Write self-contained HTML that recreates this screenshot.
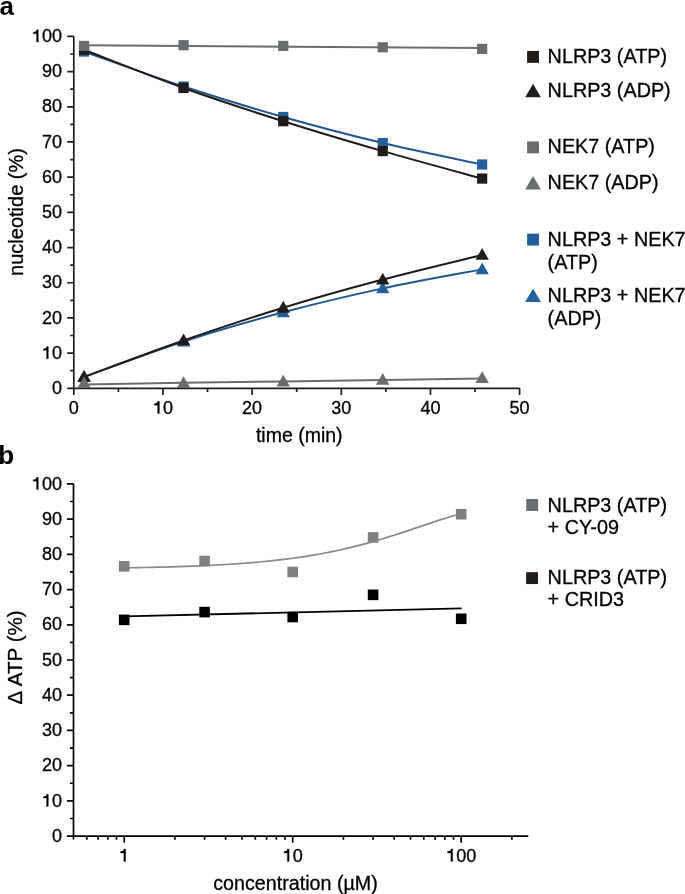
<!DOCTYPE html>
<html><head><meta charset="utf-8"><style>
html,body{margin:0;padding:0;background:#fff;}
body{width:685px;height:894px;overflow:hidden;}
svg{display:block;will-change:transform;}
text{font-family:"Liberation Sans",sans-serif;fill:#000;stroke:#000;stroke-width:0.3px;}
.t{font-size:18.0px;}
.ti{font-size:19.5px;}
.lg{font-size:19.8px;}
.pl{font-size:26px;font-weight:bold;fill:#000;stroke-width:0;}
</style></head><body>
<svg width="685" height="894" viewBox="0 0 685 894">
<path d="M73.80 36.40V394.90M67.20 388.30H519.60" stroke="#211c19" stroke-width="1.7" fill="none" stroke-linejoin="round" stroke-linecap="butt"/>
<path d="M70.20 370.70H73.80M67.20 353.11H73.80M70.20 335.51H73.80M67.20 317.92H73.80M70.20 300.33H73.80M67.20 282.73H73.80M70.20 265.13H73.80M67.20 247.54H73.80M70.20 229.94H73.80M67.20 212.35H73.80M70.20 194.75H73.80M67.20 177.16H73.80M70.20 159.56H73.80M67.20 141.97H73.80M70.20 124.38H73.80M67.20 106.78H73.80M70.20 89.19H73.80M67.20 71.59H73.80M70.20 54.00H73.80M67.20 36.40H73.80M118.38 388.30V391.90M162.96 388.30V394.90M207.54 388.30V391.90M252.12 388.30V394.90M296.70 388.30V391.90M341.28 388.30V394.90M385.86 388.30V391.90M430.44 388.30V394.90M475.02 388.30V391.90M519.60 388.30V394.90" stroke="#211c19" stroke-width="1.7" fill="none"/>
<text x="51.89" y="394.00" class="t">0</text>
<path d="M359 690L359 0L259 0L259 470L75 470L75 550C175 555 245 590 270 690Z" transform="translate(41.88 358.81) scale(0.01800 -0.01800)" fill="#000" stroke="#000" stroke-width="16.7"/>
<text x="51.89" y="358.81" class="t">0</text>
<text x="41.88" y="323.62" class="t">2</text>
<text x="51.89" y="323.62" class="t">0</text>
<text x="41.88" y="288.43" class="t">3</text>
<text x="51.89" y="288.43" class="t">0</text>
<text x="41.88" y="253.24" class="t">4</text>
<text x="51.89" y="253.24" class="t">0</text>
<text x="41.88" y="218.05" class="t">5</text>
<text x="51.89" y="218.05" class="t">0</text>
<text x="41.88" y="182.86" class="t">6</text>
<text x="51.89" y="182.86" class="t">0</text>
<text x="41.88" y="147.67" class="t">7</text>
<text x="51.89" y="147.67" class="t">0</text>
<text x="41.88" y="112.48" class="t">8</text>
<text x="51.89" y="112.48" class="t">0</text>
<text x="41.88" y="77.29" class="t">9</text>
<text x="51.89" y="77.29" class="t">0</text>
<path d="M359 690L359 0L259 0L259 470L75 470L75 550C175 555 245 590 270 690Z" transform="translate(31.88 42.10) scale(0.01800 -0.01800)" fill="#000" stroke="#000" stroke-width="16.7"/>
<text x="41.88" y="42.10" class="t">0</text>
<text x="51.89" y="42.10" class="t">0</text>
<text x="68.80" y="413.60" class="t">0</text>
<path d="M359 690L359 0L259 0L259 470L75 470L75 550C175 555 245 590 270 690Z" transform="translate(152.95 413.60) scale(0.01800 -0.01800)" fill="#000" stroke="#000" stroke-width="16.7"/>
<text x="162.96" y="413.60" class="t">0</text>
<text x="242.11" y="413.60" class="t">2</text>
<text x="252.12" y="413.60" class="t">0</text>
<text x="331.27" y="413.60" class="t">3</text>
<text x="341.28" y="413.60" class="t">0</text>
<text x="420.43" y="413.60" class="t">4</text>
<text x="430.44" y="413.60" class="t">0</text>
<text x="509.59" y="413.60" class="t">5</text>
<text x="519.60" y="413.60" class="t">0</text>
<text x="299.3" y="441.9" text-anchor="middle" class="ti">time (min)</text>
<text transform="translate(22.7 212.0) rotate(-90)" x="0" y="0" text-anchor="middle" class="ti" style="font-size:20px">nucleotide (%)</text>
<text x="-0.5" y="14.6" class="pl">a</text>
<path d="M84.05 51.53C100.64 57.37 150.36 75.64 183.56 86.55C216.75 97.45 250.04 107.57 283.24 116.99C316.43 126.40 349.59 135.11 382.74 143.03C415.89 150.94 465.58 160.91 482.15 164.49" stroke="#20568f" stroke-width="2.0" fill="none"/>
<path d="M84.05 376.69C100.64 370.82 150.36 352.23 183.56 341.50C216.75 330.76 250.04 321.15 283.24 312.29C316.43 303.43 349.59 295.52 382.74 288.36C415.89 281.21 465.58 272.52 482.15 269.36" stroke="#20568f" stroke-width="2.0" fill="none"/>
<rect x="78.95" y="46.43" width="10.2" height="10.2" fill="#21609c"/>
<rect x="178.46" y="81.45" width="10.2" height="10.2" fill="#21609c"/>
<rect x="278.14" y="111.89" width="10.2" height="10.2" fill="#21609c"/>
<rect x="377.64" y="137.93" width="10.2" height="10.2" fill="#21609c"/>
<rect x="477.05" y="159.39" width="10.2" height="10.2" fill="#21609c"/>
<path d="M84.05 369.80L90.75 381.60L77.35 381.60Z" fill="#21609c"/>
<path d="M183.56 334.61L190.26 346.41L176.86 346.41Z" fill="#21609c"/>
<path d="M283.24 305.41L289.94 317.21L276.54 317.21Z" fill="#21609c"/>
<path d="M382.74 281.48L389.44 293.28L376.04 293.28Z" fill="#21609c"/>
<path d="M482.15 262.47L488.85 274.27L475.45 274.27Z" fill="#21609c"/>
<path d="M84.05 49.77C100.64 56.14 150.36 76.05 183.56 87.95C216.75 99.86 250.04 110.68 283.24 121.21C316.43 131.74 349.59 141.56 382.74 151.12C415.89 160.68 465.58 173.99 482.15 178.57" stroke="#211c19" stroke-width="2.0" fill="none"/>
<rect x="78.95" y="44.67" width="10.2" height="10.2" fill="#211c19"/>
<rect x="178.46" y="82.85" width="10.2" height="10.2" fill="#211c19"/>
<rect x="278.14" y="116.11" width="10.2" height="10.2" fill="#211c19"/>
<rect x="377.64" y="146.02" width="10.2" height="10.2" fill="#211c19"/>
<rect x="477.05" y="173.47" width="10.2" height="10.2" fill="#211c19"/>
<path d="M84.05 377.04C100.64 370.94 150.36 352.00 183.56 340.44C216.75 328.89 250.04 317.86 283.24 307.71C316.43 297.57 349.59 288.36 382.74 279.56C415.89 270.77 465.58 259.04 482.15 254.93" stroke="#211c19" stroke-width="2.0" fill="none"/>
<path d="M84.05 370.16L90.75 381.96L77.35 381.96Z" fill="#211c19"/>
<path d="M183.56 333.56L190.26 345.36L176.86 345.36Z" fill="#211c19"/>
<path d="M283.24 300.83L289.94 312.63L276.54 312.63Z" fill="#211c19"/>
<path d="M382.74 272.68L389.44 284.48L376.04 284.48Z" fill="#211c19"/>
<path d="M482.15 248.05L488.85 259.85L475.45 259.85Z" fill="#211c19"/>
<path d="M84.05 45.3L482.15 48.0" stroke="#686d70" stroke-width="2.0" fill="none"/>
<path d="M84.05 384.50 L183.56 382.85 L283.24 381.44 L382.74 380.03 L482.15 378.62" stroke="#686d70" stroke-width="2.0" fill="none"/>
<rect x="78.95" y="40.80" width="10.2" height="10.2" fill="#686d70"/>
<rect x="178.46" y="40.10" width="10.2" height="10.2" fill="#686d70"/>
<rect x="278.14" y="40.80" width="10.2" height="10.2" fill="#686d70"/>
<rect x="377.64" y="42.21" width="10.2" height="10.2" fill="#686d70"/>
<rect x="477.05" y="43.79" width="10.2" height="10.2" fill="#686d70"/>
<path d="M84.05 376.14L90.75 387.94L77.35 387.94Z" fill="#686d70"/>
<path d="M183.56 376.14L190.26 387.94L176.86 387.94Z" fill="#686d70"/>
<path d="M283.24 374.73L289.94 386.53L276.54 386.53Z" fill="#686d70"/>
<path d="M382.74 372.97L389.44 384.77L376.04 384.77Z" fill="#686d70"/>
<path d="M482.15 371.21L488.85 383.01L475.45 383.01Z" fill="#686d70"/>
<rect x="527.10" y="50.95" width="11.9" height="11.9" fill="#211c19"/>
<text x="547.6" y="62.80" class="lg">NLRP3 (ATP)</text>
<path d="M533.05 83.80L540.90 97.30L525.20 97.30Z" fill="#211c19"/>
<text x="547.6" y="97.30" class="lg">NLRP3 (ADP)</text>
<rect x="527.10" y="141.45" width="11.9" height="11.9" fill="#686d70"/>
<text x="547.6" y="153.30" class="lg">NEK7 (ATP)</text>
<path d="M533.05 175.90L540.90 189.40L525.20 189.40Z" fill="#686d70"/>
<text x="547.6" y="189.40" class="lg">NEK7 (ADP)</text>
<rect x="527.10" y="233.65" width="11.9" height="11.9" fill="#21609c"/>
<text x="547.6" y="245.50" class="lg">NLRP3 + NEK7</text>
<text x="547.6" y="268.60" class="lg">(ATP)</text>
<path d="M533.05 288.50L540.90 302.00L525.20 302.00Z" fill="#21609c"/>
<text x="547.6" y="302.00" class="lg">NLRP3 + NEK7</text>
<text x="547.6" y="325.10" class="lg">(ADP)</text>
<path d="M73.50 483.90V839.50M66.90 836.10H528.25" stroke="#000" stroke-width="1.7" fill="none"/>
<path d="M69.90 818.49H73.50M66.90 800.88H73.50M69.90 783.27H73.50M66.90 765.66H73.50M69.90 748.05H73.50M66.90 730.44H73.50M69.90 712.83H73.50M66.90 695.22H73.50M69.90 677.61H73.50M66.90 660.00H73.50M69.90 642.39H73.50M66.90 624.78H73.50M69.90 607.17H73.50M66.90 589.56H73.50M69.90 571.95H73.50M66.90 554.34H73.50M69.90 536.73H73.50M66.90 519.12H73.50M69.90 501.51H73.50M66.90 483.90H73.50M86.82 836.10V839.70M98.10 836.10V839.70M107.87 836.10V839.70M116.49 836.10V839.70M124.20 836.10V842.70M174.92 836.10V839.70M204.59 836.10V839.70M225.65 836.10V839.70M241.98 836.10V839.70M255.32 836.10V839.70M266.60 836.10V839.70M276.37 836.10V839.70M284.99 836.10V839.70M292.70 836.10V842.70M343.42 836.10V839.70M373.09 836.10V839.70M394.15 836.10V839.70M410.48 836.10V839.70M423.82 836.10V839.70M435.10 836.10V839.70M444.87 836.10V839.70M453.49 836.10V839.70M461.20 836.10V842.70M511.92 836.10V839.70" stroke="#000" stroke-width="1.7" fill="none"/>
<text x="51.89" y="841.80" class="t">0</text>
<path d="M359 690L359 0L259 0L259 470L75 470L75 550C175 555 245 590 270 690Z" transform="translate(41.88 806.58) scale(0.01800 -0.01800)" fill="#000" stroke="#000" stroke-width="16.7"/>
<text x="51.89" y="806.58" class="t">0</text>
<text x="41.88" y="771.36" class="t">2</text>
<text x="51.89" y="771.36" class="t">0</text>
<text x="41.88" y="736.14" class="t">3</text>
<text x="51.89" y="736.14" class="t">0</text>
<text x="41.88" y="700.92" class="t">4</text>
<text x="51.89" y="700.92" class="t">0</text>
<text x="41.88" y="665.70" class="t">5</text>
<text x="51.89" y="665.70" class="t">0</text>
<text x="41.88" y="630.48" class="t">6</text>
<text x="51.89" y="630.48" class="t">0</text>
<text x="41.88" y="595.26" class="t">7</text>
<text x="51.89" y="595.26" class="t">0</text>
<text x="41.88" y="560.04" class="t">8</text>
<text x="51.89" y="560.04" class="t">0</text>
<text x="41.88" y="524.82" class="t">9</text>
<text x="51.89" y="524.82" class="t">0</text>
<path d="M359 690L359 0L259 0L259 470L75 470L75 550C175 555 245 590 270 690Z" transform="translate(31.88 489.60) scale(0.01800 -0.01800)" fill="#000" stroke="#000" stroke-width="16.7"/>
<text x="41.88" y="489.60" class="t">0</text>
<text x="51.89" y="489.60" class="t">0</text>
<path d="M359 690L359 0L259 0L259 470L75 470L75 550C175 555 245 590 270 690Z" transform="translate(119.20 861.50) scale(0.01800 -0.01800)" fill="#000" stroke="#000" stroke-width="16.7"/>
<path d="M359 690L359 0L259 0L259 470L75 470L75 550C175 555 245 590 270 690Z" transform="translate(282.69 861.50) scale(0.01800 -0.01800)" fill="#000" stroke="#000" stroke-width="16.7"/>
<text x="292.70" y="861.50" class="t">0</text>
<path d="M359 690L359 0L259 0L259 470L75 470L75 550C175 555 245 590 270 690Z" transform="translate(446.19 861.50) scale(0.01800 -0.01800)" fill="#000" stroke="#000" stroke-width="16.7"/>
<text x="456.20" y="861.50" class="t">0</text>
<text x="466.20" y="861.50" class="t">0</text>
<text x="295.5" y="889.7" text-anchor="middle" class="ti" style="font-size:19.7px">concentration (µM)</text>
<text transform="translate(21.9 657.4) rotate(-90)" x="0" y="0" text-anchor="middle" class="ti" style="font-size:20.6px">Δ ATP (%)</text>
<text x="-1.7" y="463.9" class="pl">b</text>
<path d="M124.20 567.88 L130.94 567.77 L137.68 567.65 L144.42 567.52 L151.16 567.37 L157.90 567.21 L164.64 567.04 L171.38 566.85 L178.12 566.64 L184.86 566.41 L191.60 566.16 L198.34 565.89 L205.08 565.59 L211.82 565.26 L218.56 564.91 L225.30 564.52 L232.04 564.10 L238.78 563.65 L245.52 563.15 L252.26 562.61 L259.00 562.02 L265.74 561.38 L272.48 560.69 L279.22 559.94 L285.96 559.13 L292.70 558.25 L299.44 557.30 L306.18 556.29 L312.92 555.19 L319.66 554.01 L326.40 552.76 L333.14 551.41 L339.88 549.97 L346.62 548.45 L353.36 546.83 L360.10 545.12 L366.84 543.32 L373.58 541.44 L380.32 539.47 L387.06 537.42 L393.80 535.30 L400.54 533.12 L407.28 530.90 L414.02 528.64 L420.76 526.37 L427.50 524.09 L434.24 521.84 L440.98 519.64 L447.72 517.50 L454.46 515.45 L461.20 513.50" stroke="#8a8a8a" stroke-width="1.7" fill="none"/>
<path d="M124.2 616.4L461.6 608.3" stroke="#000" stroke-width="1.8" fill="none"/>
<rect x="118.90" y="561.01" width="10.6" height="10.6" fill="#808080"/>
<rect x="199.29" y="555.73" width="10.6" height="10.6" fill="#808080"/>
<rect x="287.40" y="566.65" width="10.6" height="10.6" fill="#808080"/>
<rect x="367.79" y="532.13" width="10.6" height="10.6" fill="#808080"/>
<rect x="455.90" y="508.89" width="10.6" height="10.6" fill="#808080"/>
<rect x="118.90" y="614.55" width="10.6" height="10.6" fill="#000"/>
<rect x="199.29" y="606.80" width="10.6" height="10.6" fill="#000"/>
<rect x="287.40" y="611.73" width="10.6" height="10.6" fill="#000"/>
<rect x="367.79" y="589.54" width="10.6" height="10.6" fill="#000"/>
<rect x="455.90" y="613.49" width="10.6" height="10.6" fill="#000"/>
<rect x="526.25" y="499.05" width="11.9" height="11.9" fill="#686d70"/>
<text x="547.6" y="511.8" class="lg">NLRP3 (ATP)</text>
<text x="547.6" y="533.8" class="lg">+ CY-09</text>
<rect x="526.15" y="572.15" width="11.9" height="11.9" fill="#211c19"/>
<text x="547.6" y="584.3" class="lg">NLRP3 (ATP)</text>
<text x="547.6" y="606.3" class="lg">+ CRID3</text>
</svg>
</body></html>
